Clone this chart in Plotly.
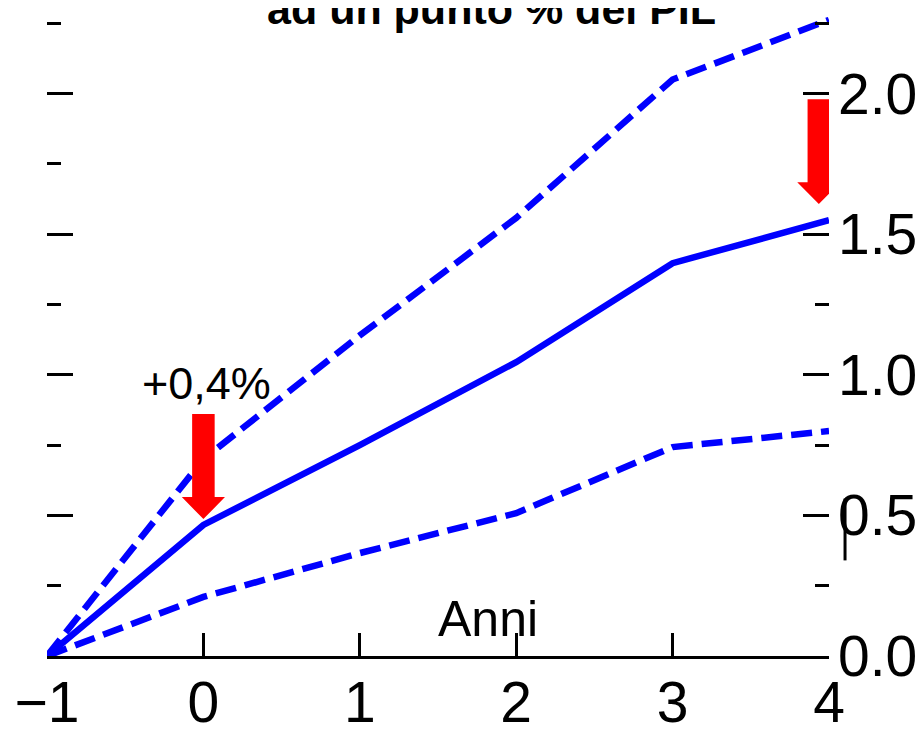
import plotly.graph_objects as go

# ---- data ----
anni = [-1, 0, 1, 2, 3, 4]
centrale = [0.0, 0.466, 0.75, 1.045, 1.397, 1.55]
banda_sup = [0.0, 0.70, 1.14, 1.558, 2.05, 2.262]
banda_inf = [0.0, 0.21, 0.366, 0.508, 0.743, 0.80]

y_ticks = [0.0, 0.5, 1.0, 1.5, 2.0]
x_ticks = [-1, 0, 1, 2, 3, 4]

arrow_x = [0.0, 3.935]
arrow_top = [0.861, 1.98]
arrow_tip = [0.487, 1.607]

title_text = "ad un punto % del PIL"
annot_text = "+0,4%"
xlab_text = "Anni"

FONT = "Liberation Sans, Arial, sans-serif"
BLUE = "#0000FF"

fig = go.Figure()
fig.add_trace(go.Scatter(x=anni, y=banda_sup, mode="lines",
                         line=dict(color=BLUE, width=6.5, dash="21px,9px")))
fig.add_trace(go.Scatter(x=anni, y=banda_inf, mode="lines",
                         line=dict(color=BLUE, width=6.5, dash="21px,9px")))
fig.add_trace(go.Scatter(x=anni, y=centrale, mode="lines",
                         line=dict(color=BLUE, width=6.5)))

# red arrows (data units)
shaft_hw = 0.072
head_hw = 0.138
head_len = 0.078
shapes = []
for ax_, top, tip in zip(arrow_x, arrow_top, arrow_tip):
    base = tip + head_len
    path = (f"M {ax_-shaft_hw},{top} L {ax_+shaft_hw},{top} L {ax_+shaft_hw},{base} "
            f"L {ax_+head_hw},{base} L {ax_},{tip} L {ax_-head_hw},{base} "
            f"L {ax_-shaft_hw},{base} Z")
    shapes.append(dict(type="path", path=path, xref="x", yref="y",
                       fillcolor="#FF0000", line=dict(width=0), layer="above"))

# small vertical mark next to the 0.5 label
shapes.append(dict(type="line", xref="paper", yref="y", x0=1.0205, x1=1.0205,
                   y0=0.34, y1=0.56, line=dict(color="black", width=3)))

fig.update_layout(
    width=916, height=721,
    margin=dict(l=39, r=95, t=0, b=73, autoexpand=False),
    paper_bgcolor="white", plot_bgcolor="white",
    showlegend=False,
    shapes=shapes,
    font=dict(family=FONT, color="black"),
    xaxis=dict(range=[-1, 4], tickvals=x_ticks, showgrid=False, zeroline=False,
               automargin=False,
               showline=True, linecolor="black", linewidth=3,
               ticks="inside", ticklen=23, tickwidth=2.5, tickcolor="black",
               tickfont=dict(size=57, family=FONT), ticklabelstandoff=-5),
    yaxis=dict(range=[0, 2.3044], tickvals=y_ticks, tickformat=".1f",
               automargin=False,
               side="right", showgrid=False, zeroline=False, showline=False,
               ticks="inside", ticklen=26, tickwidth=3, tickcolor="black",
               mirror="ticks",
               minor=dict(dtick=0.25, ticks="inside", ticklen=14, tickwidth=3,
                          tickcolor="black", showgrid=False),
               tickfont=dict(size=57, family=FONT), ticklabelstandoff=8),
    annotations=[
        dict(text=f"<b>{title_text}</b>", xref="paper", yref="paper",
             x=0.568, y=0.998, xanchor="center", yanchor="middle",
             showarrow=False, font=dict(size=43, family=FONT)),
        dict(text=annot_text, xref="x", yref="y", x=0.02, y=0.97,
             xanchor="center", yanchor="middle", showarrow=False,
             font=dict(size=45, family=FONT)),
        dict(text=xlab_text, xref="x", yref="y", x=1.82, y=0.13,
             xanchor="center", yanchor="middle", showarrow=False,
             font=dict(size=50, family=FONT)),
    ],
)

fig.write_html("out.html")
